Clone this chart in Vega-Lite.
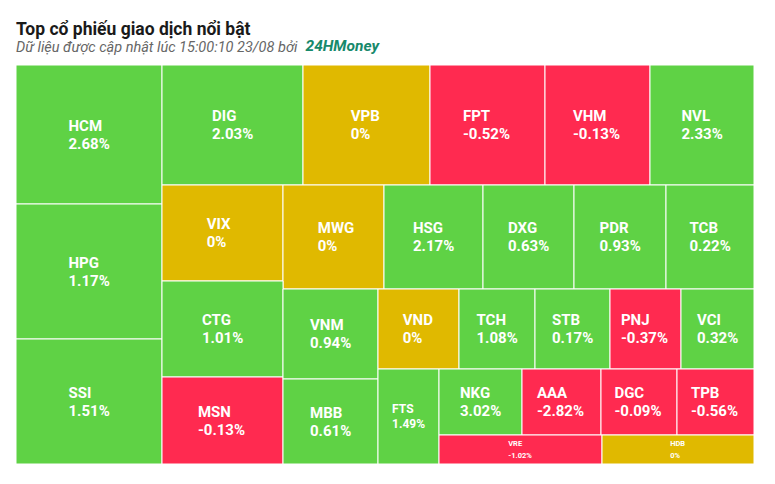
{
  "$schema": "https://vega.github.io/schema/vega-lite/v6.json",
  "width": 738,
  "height": 399,
  "autosize": {"type": "none"},
  "padding": {"left": 16, "top": 65, "right": 21, "bottom": 20},
  "background": "white",
  "title": {
    "text": "Top cổ phiếu giao dịch nổi bật",
    "subtitle": "Dữ liệu được cập nhật lúc 15:00:10 23/08 bởi",
    "anchor": "start",
    "frame": "group",
    "offset": -16,
    "font": "Roboto",
    "fontSize": 17.5,
    "fontWeight": "bold",
    "color": "#1a1a1a",
    "subtitleFont": "Roboto",
    "subtitleFontSize": 14.5,
    "subtitleFontStyle": "italic",
    "subtitleColor": "#666666",
    "subtitlePadding": 2
  },
  "config": {"view": {"stroke": null}},
  "data": {
    "values": [
      {"ticker": "HCM", "change": 2.68, "x0": 0, "x1": 146, "y0": 0, "y1": 139},
      {"ticker": "HPG", "change": 1.17, "x0": 0, "x1": 146, "y0": 139, "y1": 274},
      {"ticker": "SSI", "change": 1.51, "x0": 0, "x1": 146, "y0": 274, "y1": 399},
      {"ticker": "DIG", "change": 2.03, "x0": 146, "x1": 287, "y0": 0, "y1": 120},
      {"ticker": "VPB", "change": 0, "x0": 287, "x1": 414, "y0": 0, "y1": 120},
      {"ticker": "FPT", "change": -0.52, "x0": 414, "x1": 529, "y0": 0, "y1": 120},
      {"ticker": "VHM", "change": -0.13, "x0": 529, "x1": 634, "y0": 0, "y1": 120},
      {"ticker": "NVL", "change": 2.33, "x0": 634, "x1": 738, "y0": 0, "y1": 120},
      {"ticker": "VIX", "change": 0, "x0": 146, "x1": 267, "y0": 120, "y1": 216},
      {"ticker": "MWG", "change": 0, "x0": 267, "x1": 368, "y0": 120, "y1": 224},
      {"ticker": "HSG", "change": 2.17, "x0": 368, "x1": 467, "y0": 120, "y1": 224},
      {"ticker": "DXG", "change": 0.63, "x0": 467, "x1": 558, "y0": 120, "y1": 224},
      {"ticker": "PDR", "change": 0.93, "x0": 558, "x1": 650, "y0": 120, "y1": 224},
      {"ticker": "TCB", "change": 0.22, "x0": 650, "x1": 738, "y0": 120, "y1": 224},
      {"ticker": "CTG", "change": 1.01, "x0": 146, "x1": 267, "y0": 216, "y1": 312},
      {"ticker": "MSN", "change": -0.13, "x0": 146, "x1": 267, "y0": 312, "y1": 399},
      {"ticker": "VNM", "change": 0.94, "x0": 267, "x1": 362, "y0": 224, "y1": 314},
      {"ticker": "MBB", "change": 0.61, "x0": 267, "x1": 362, "y0": 314, "y1": 399},
      {"ticker": "VND", "change": 0, "x0": 362, "x1": 443, "y0": 224, "y1": 304},
      {"ticker": "TCH", "change": 1.08, "x0": 443, "x1": 519, "y0": 224, "y1": 304},
      {"ticker": "STB", "change": 0.17, "x0": 519, "x1": 594, "y0": 224, "y1": 304},
      {"ticker": "PNJ", "change": -0.37, "x0": 594, "x1": 665, "y0": 224, "y1": 304},
      {"ticker": "VCI", "change": 0.32, "x0": 665, "x1": 738, "y0": 224, "y1": 304},
      {"ticker": "FTS", "change": 1.49, "x0": 362, "x1": 423, "y0": 304, "y1": 399},
      {"ticker": "NKG", "change": 3.02, "x0": 423, "x1": 506, "y0": 304, "y1": 370},
      {"ticker": "AAA", "change": -2.82, "x0": 506, "x1": 585, "y0": 304, "y1": 370},
      {"ticker": "DGC", "change": -0.09, "x0": 585, "x1": 661, "y0": 304, "y1": 370},
      {"ticker": "TPB", "change": -0.56, "x0": 661, "x1": 738, "y0": 304, "y1": 370},
      {"ticker": "VRE", "change": -1.02, "x0": 423, "x1": 586, "y0": 370, "y1": 399},
      {"ticker": "HDB", "change": 0, "x0": 586, "x1": 738, "y0": 370, "y1": 399}
    ]
  },
  "transform": [
    {"calculate": "datum.ticker + '\\n' + datum.change + '%'", "as": "label"},
    {"calculate": "(datum.x0 + datum.x1) / 2", "as": "cx"},
    {"calculate": "(datum.y0 + datum.y1) / 2", "as": "cy"},
    {"calculate": "max(length(datum.ticker) * 10.5, length(datum.change + '%') * 8.2)", "as": "bw"}
  ],
  "encoding": {
    "y": {"field": "y0", "type": "quantitative", "scale": {"domain": [0, 399], "reverse": true, "nice": false, "zero": false}, "axis": null}
  },
  "layer": [
    {
      "mark": {"type": "rect", "stroke": "white", "strokeWidth": 1},
      "encoding": {
        "x": {"field": "x0", "type": "quantitative", "scale": {"domain": [0, 738], "nice": false, "zero": false},
          "axis": {"orient": "top", "domain": false, "ticks": false, "labels": false, "grid": false,
            "title": "24HMoney", "titleFont": "Roboto", "titleFontSize": 15.5, "titleFontWeight": "bold",
            "titleFontStyle": "italic", "titleColor": "#17896b", "titleAnchor": "start", "titleAlign": "left",
            "titleBaseline": "alphabetic", "titleX": 289, "titleY": -15, "titlePadding": 0}},
        "x2": {"field": "x1"},
        "y": {"field": "y0", "type": "quantitative"},
        "y2": {"field": "y1"},
        "color": {"field": "change", "type": "quantitative",
          "scale": {"type": "threshold", "domain": [-0.0001, 0.0001], "range": ["#ff2a50", "#e0b900", "#5fd245"]},
          "legend": null}
      }
    },
    {
      "transform": [
        {"filter": "datum.ticker != 'FTS' && datum.ticker != 'VRE' && datum.ticker != 'HDB'"},
        {"calculate": "datum.cx - datum.bw / 2", "as": "lx"}
      ],
      "mark": {"type": "text", "align": "left", "baseline": "middle", "lineBreak": "\n", "lineHeight": 18, "dy": -9,
        "font": "Roboto", "fontSize": 15, "fontWeight": "bold", "color": "white"},
      "encoding": {
        "x": {"field": "lx", "type": "quantitative"},
        "y": {"field": "cy", "type": "quantitative"},
        "text": {"field": "label"}
      }
    },
    {
      "transform": [
        {"filter": "datum.ticker == 'FTS'"},
        {"calculate": "datum.cx - datum.bw * 0.8 / 2", "as": "lx"}
      ],
      "mark": {"type": "text", "align": "left", "baseline": "middle", "lineBreak": "\n", "lineHeight": 15, "dy": -7.5,
        "font": "Roboto", "fontSize": 12, "fontWeight": "bold", "color": "white"},
      "encoding": {
        "x": {"field": "lx", "type": "quantitative"},
        "y": {"field": "cy", "type": "quantitative"},
        "text": {"field": "label"}
      }
    },
    {
      "transform": [
        {"filter": "datum.ticker == 'VRE' || datum.ticker == 'HDB'"},
        {"calculate": "datum.cx - datum.bw * 0.5 / 2", "as": "lx"}
      ],
      "mark": {"type": "text", "align": "left", "baseline": "middle", "lineBreak": "\n", "lineHeight": 12, "dy": -6,
        "font": "Roboto", "fontSize": 7.5, "fontWeight": "bold", "color": "white"},
      "encoding": {
        "x": {"field": "lx", "type": "quantitative"},
        "y": {"field": "cy", "type": "quantitative"},
        "text": {"field": "label"}
      }
    }
  ]
}
